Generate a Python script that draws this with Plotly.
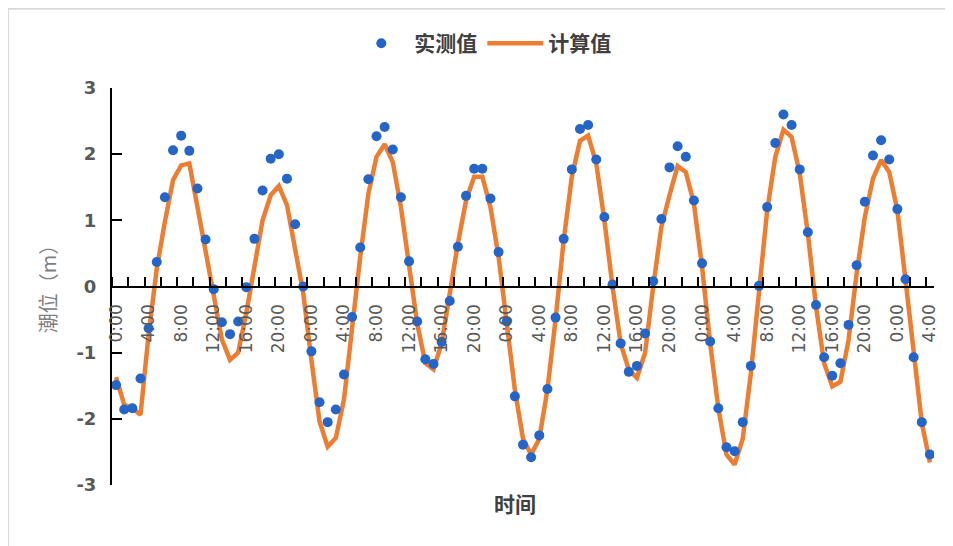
import plotly.graph_objects as go

# hourly index (0:00 day 1 ... 4:00 day 5)
hours = list(range(101))

measured = [
    -1.49, -1.86, -1.84, -1.39, -0.63, 0.37, 1.35, 2.06, 2.28, 2.05,
    1.48, 0.71, -0.04, -0.54, -0.72, -0.53, -0.01, 0.72, 1.45, 1.93,
    2.00, 1.63, 0.94, 0.00, -0.98, -1.75, -2.05, -1.86, -1.33, -0.46,
    0.59, 1.62, 2.27, 2.41, 2.07, 1.35, 0.38, -0.53, -1.10, -1.17,
    -0.84, -0.22, 0.60, 1.37, 1.78, 1.78, 1.33, 0.52, -0.53, -1.66,
    -2.39, -2.58, -2.25, -1.55, -0.47, 0.72, 1.77, 2.38, 2.44, 1.92,
    1.05, 0.03, -0.86, -1.29, -1.20, -0.71, 0.08, 1.02, 1.80, 2.12,
    1.96, 1.30, 0.35, -0.83, -1.84, -2.43, -2.49, -2.05, -1.20, 0.01,
    1.20, 2.17, 2.60, 2.44, 1.77, 0.82, -0.28, -1.07, -1.35, -1.16,
    -0.58, 0.32, 1.28, 1.98, 2.21, 1.92, 1.17, 0.11, -1.07, -2.05,
    -2.54,
]

calculated = [
    -1.37, -1.79, -1.84, -1.94, -0.72, 0.27, 0.98, 1.61, 1.83, 1.86,
    1.20, 0.55, -0.15, -0.80, -1.11, -1.00, -0.40, 0.35, 1.00, 1.38,
    1.52, 1.23, 0.60, -0.10, -1.11, -2.04, -2.42, -2.29, -1.71, -0.60,
    0.45, 1.40, 1.96, 2.15, 1.88, 1.20, 0.30, -0.56, -1.16, -1.25,
    -0.86, -0.10, 0.65, 1.30, 1.66, 1.66, 1.20, 0.45, -0.50, -1.56,
    -2.30, -2.54, -2.30, -1.56, -0.50, 0.70, 1.66, 2.20, 2.28, 1.86,
    1.00, 0.00, -0.86, -1.26, -1.38, -1.00, 0.00, 0.90, 1.38, 1.82,
    1.73, 1.25, 0.30, -0.86, -1.84, -2.54, -2.69, -2.30, -1.31, 0.00,
    1.15, 1.96, 2.37, 2.26, 1.71, 0.80, -0.30, -1.16, -1.51, -1.44,
    -0.81, 0.20, 1.05, 1.63, 1.91, 1.73, 1.15, 0.10, -1.06, -2.06,
    -2.66,
]

tick_positions = list(range(0, 101, 4))
tick_labels = [
    "0:00", "4:00", "8:00", "12:00", "16:00", "20:00",
    "0:00", "4:00", "8:00", "12:00", "16:00", "20:00",
    "0:00", "4:00", "8:00", "12:00", "16:00", "20:00",
    "0:00", "4:00", "8:00", "12:00", "16:00", "20:00",
    "0:00", "4:00",
]
y_ticks = [-3, -2, -1, 0, 1, 2, 3]
y_tick_labels = ["-3", "-2", "-1", "0", "1", "2", "3"]

CJK = "Noto Sans CJK SC"

fig = go.Figure()
fig.add_trace(go.Scatter(
    x=hours, y=calculated, mode="lines", name="计算值",
    line=dict(color="#ED7D31", width=4.5), legendrank=2,
))
fig.add_trace(go.Scatter(
    x=hours, y=measured, mode="markers", name="实测值",
    marker=dict(color="#2565C7", size=10), legendrank=1,
))

fig.update_layout(
    width=945, height=538,
    margin=dict(l=104, r=19, t=79.5, b=60.5),
    paper_bgcolor="white", plot_bgcolor="white",
    showlegend=True,
    legend=dict(
        orientation="h", x=0.4505, xanchor="center", y=1.112, yanchor="middle",
        font=dict(family=CJK, size=21, color="#404040", weight="bold"),
        itemwidth=56, bgcolor="rgba(0,0,0,0)",
    ),
    xaxis=dict(
        range=[-0.5, 100.5],
        tickmode="array", tickvals=tick_positions, ticktext=tick_labels,
        tickangle=-90, ticks="",
        tickfont=dict(family="DejaVu Sans", size=17, color="#595959"),
        ticklabelstandoff=10,
        showline=True, linecolor="black", linewidth=2,
        anchor="free", position=0.5,
        showgrid=False, zeroline=False,
        minor=dict(tickmode="linear", tick0=-0.5, dtick=2, ticks="inside",
                   ticklen=9, tickwidth=2, tickcolor="black", showgrid=False),
    ),
    yaxis=dict(
        range=[-3, 3], tickmode="array", tickvals=y_ticks, ticktext=y_tick_labels,
        ticks="inside", ticklen=10, tickwidth=2, tickcolor="black",
        tickfont=dict(family="DejaVu Sans", size=18, color="#595959", weight="bold"),
        ticklabelstandoff=10,
        showline=True, linecolor="black", linewidth=2,
        showgrid=False, zeroline=False,
    ),
    annotations=[
        dict(text="潮位（m）", xref="paper", yref="paper", x=-0.079, y=0.506,
             textangle=-90, showarrow=False, xanchor="center", yanchor="middle",
             font=dict(family=CJK, size=20, color="#808080")),
        dict(text="时间", xref="paper", yref="paper", x=0.490, y=-0.0465,
             showarrow=False, xanchor="center", yanchor="middle",
             font=dict(family=CJK, size=21, color="#404040", weight="bold")),
    ],
    shapes=[
        dict(type="line", xref="paper", yref="paper",
             x0=-0.12652, x1=1.1, y0=1.19975, y1=1.19975,
             line=dict(color="#D9D9D9", width=2), layer="below"),
        dict(type="line", xref="paper", yref="paper",
             x0=-0.12652, x1=-0.12652, y0=-0.2, y1=1.19975,
             line=dict(color="#D9D9D9", width=2), layer="below"),
    ],
)

fig.write_html("out.html")
